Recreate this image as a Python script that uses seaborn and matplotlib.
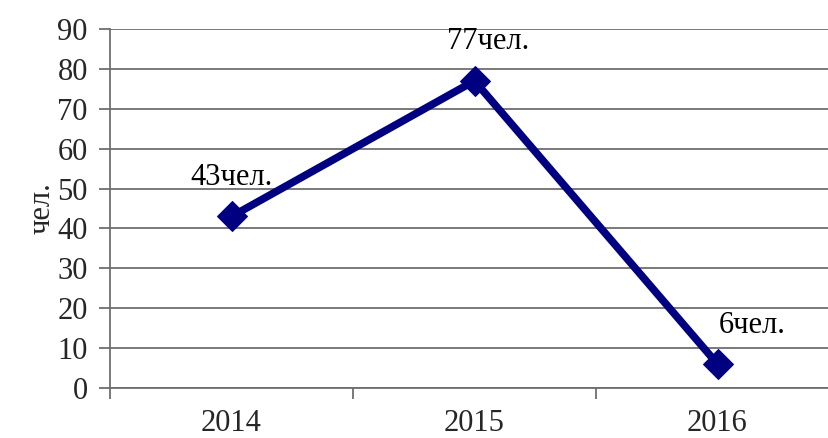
import matplotlib
matplotlib.use('Agg')
import matplotlib.pyplot as plt
import seaborn as sns
import pandas as pd
from matplotlib.ticker import FixedLocator

# data
years = ['2014', '2015', '2016']
people = [43, 77, 6]
labels = ['43чел.', '77чел.', '6чел.']
label_dx = [0, 10, 25]  # label shift in points

sns.set_style('white')
plt.rcParams['font.family'] = ['Liberation Serif', 'DejaVu Serif']

df = pd.DataFrame({'year': years, 'people': people})
df['pos'] = range(len(years))

fig = plt.figure(figsize=(8.29, 4.38), dpi=100)
ax = fig.add_axes([110 / 829, 50 / 438, 729 / 829, 359 / 438])

grid_c = '#6e6e6e'
for v in range(0, 91, 10):
    ax.axhline(v, color=grid_c, lw=1.3, zorder=1)

sns.lineplot(data=df, x='pos', y='people', ax=ax, color='#000080', lw=5.5,
             marker='D', markersize=15, markeredgecolor='#000080', zorder=3)

for i, (v, t) in enumerate(zip(people, labels)):
    ax.annotate(t, (i, v), xytext=(label_dx[i], 28), textcoords='offset points',
                ha='center', va='center', fontsize=22, color='black')

ax.set_xlim(-0.5, 2.5)
ax.set_ylim(0, 90)
ax.set_yticks(range(0, 91, 10))
ax.set_xticks(range(len(years)))
ax.set_xticklabels(years)
ax.xaxis.set_minor_locator(FixedLocator([-0.5, 0.5, 1.5, 2.5]))
ax.tick_params(axis='x', which='major', length=0, labelsize=22, pad=15)
ax.tick_params(axis='x', which='minor', length=8, width=1.3, color=grid_c, direction='out')
ax.tick_params(axis='y', length=8, width=1.3, color=grid_c, direction='out', labelsize=22, pad=8)
ax.xaxis.set_ticks_position('bottom')
ax.yaxis.set_ticks_position('left')

for s in ['top', 'right']:
    ax.spines[s].set_visible(False)
ax.spines['left'].set_color(grid_c)
ax.spines['left'].set_linewidth(1.3)
ax.spines['bottom'].set_color(grid_c)
ax.spines['bottom'].set_linewidth(1.3)

ax.set_xlabel('')
ax.set_ylabel('чел.', fontsize=22, labelpad=1)

fig.savefig('out.png', dpi=100)
